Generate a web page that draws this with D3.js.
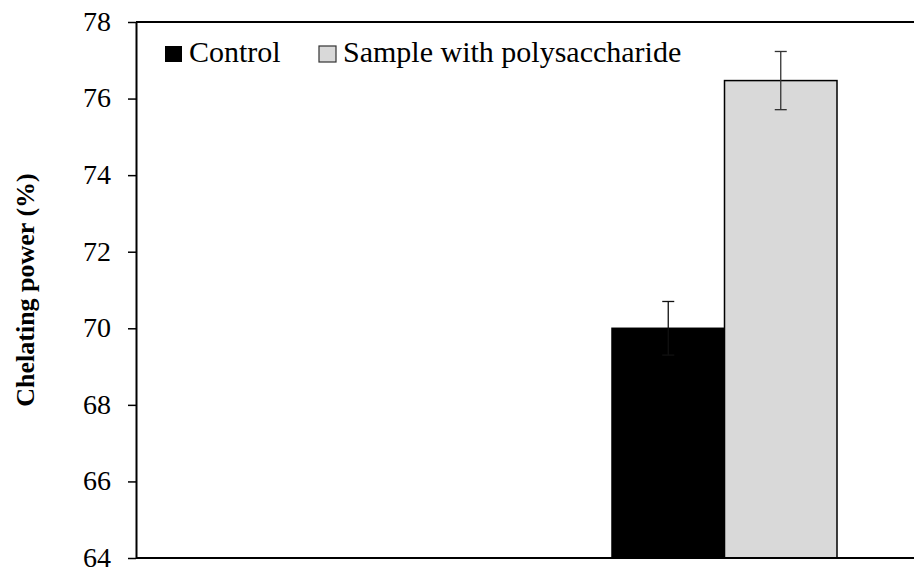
<!DOCTYPE html>
<html>
<head>
<meta charset="utf-8">
<script src="https://cdn.jsdelivr.net/npm/d3@7"></script>
<style>
  body { margin: 0; background: #fff; }
  svg text { font-family: "Liberation Serif", "Times New Roman", serif; fill: #000; }
</style>
</head>
<body>
<svg width="914" height="569"></svg>
<script>
// data
var groups = ["Chelating"];
var series = ["Control", "Sample with polysaccharide"];
var values = [70.0, 76.47];
var errors = [0.7, 0.76];
var colors = ["#000000", "#d9d9d9"];
var yTicks = [64, 66, 68, 70, 72, 74, 76, 78];

var svg = d3.select("svg"),
    margin = {top: 22, right: 0, bottom: 11, left: 136},
    width = +svg.attr("width") - margin.left - margin.right,
    height = +svg.attr("height") - margin.top - margin.bottom,
    g = svg.append("g").attr("transform", "translate(" + margin.left + "," + margin.top + ")");

var y = d3.scaleLinear().domain([64, 78]).range([height, 0]);

// the plot is cropped on the right, group sits right of centre
var x0 = d3.scaleBand().domain(groups).range([476, 701]).padding(0);
var x1 = d3.scaleBand().domain(series).range([0, x0.bandwidth()]).padding(0);

function cx(i) { return x0(groups[0]) + x1(series[i]) + x1.bandwidth() / 2; }

// bars
g.selectAll(".bar")
  .data(values)
  .enter().append("rect")
    .attr("class", "bar")
    .attr("x", function(d, i) { return x0(groups[0]) + x1(series[i]); })
    .attr("y", function(d) { return y(d); })
    .attr("width", x1.bandwidth())
    .attr("height", function(d) { return height - y(d); })
    .attr("fill", function(d, i) { return colors[i]; })
    .attr("stroke", "#000")
    .attr("stroke-width", 1.5);

// error bars
var err = g.selectAll(".err")
  .data(values)
  .enter().append("g")
    .attr("class", "err")
    .attr("stroke", function(d, i) { return i ? "#333" : "#111"; })
    .attr("stroke-width", 1.3);

err.append("line")
  .attr("x1", function(d, i) { return cx(i); })
  .attr("x2", function(d, i) { return cx(i); })
  .attr("y1", function(d, i) { return y(d - errors[i]); })
  .attr("y2", function(d, i) { return y(d + errors[i]); });

[1, -1].forEach(function(s) {
  err.append("line")
    .attr("x1", function(d, i) { return cx(i) - 6; })
    .attr("x2", function(d, i) { return cx(i) + 6; })
    .attr("y1", function(d, i) { return y(d + s * errors[i]); })
    .attr("y2", function(d, i) { return y(d + s * errors[i]); });
});

// axes
var yAxis = g.append("g")
  .call(d3.axisLeft(y).tickValues(yTicks).tickSize(8).tickSizeOuter(0).tickPadding(17));
yAxis.attr("font-family", null).attr("font-size", null);
yAxis.select(".domain").attr("stroke-width", 2);
yAxis.selectAll(".tick line").attr("stroke-width", 1.5);
yAxis.selectAll("text").style("font-size", "28px").attr("dy", "0.3em");

g.append("line")
  .attr("x1", 0).attr("x2", width)
  .attr("y1", height).attr("y2", height)
  .attr("stroke", "#000").attr("stroke-width", 2);
g.append("line")
  .attr("x1", 0).attr("x2", width)
  .attr("y1", 0).attr("y2", 0)
  .attr("stroke", "#000").attr("stroke-width", 2);

// y title
svg.append("text")
  .attr("transform", "translate(34," + (margin.top + height / 2) + ") rotate(-90)")
  .attr("text-anchor", "middle")
  .style("font-size", "26px")
  .style("font-weight", "bold")
  .text("Chelating power (%)");

// legend
var legX = [29, 183];
var legend = g.selectAll(".legend")
  .data(series)
  .enter().append("g")
    .attr("class", "legend")
    .attr("transform", function(d, i) { return "translate(" + legX[i] + ",24)"; });

legend.append("rect")
  .attr("width", 17).attr("height", 16)
  .attr("fill", function(d, i) { return colors[i]; })
  .attr("stroke", function(d, i) { return i ? "#333" : "none"; })
  .attr("stroke-width", 1.2);

legend.append("text")
  .attr("x", 24).attr("y", 16)
  .style("font-size", "30px")
  .text(function(d) { return d; });
</script>
</body>
</html>
